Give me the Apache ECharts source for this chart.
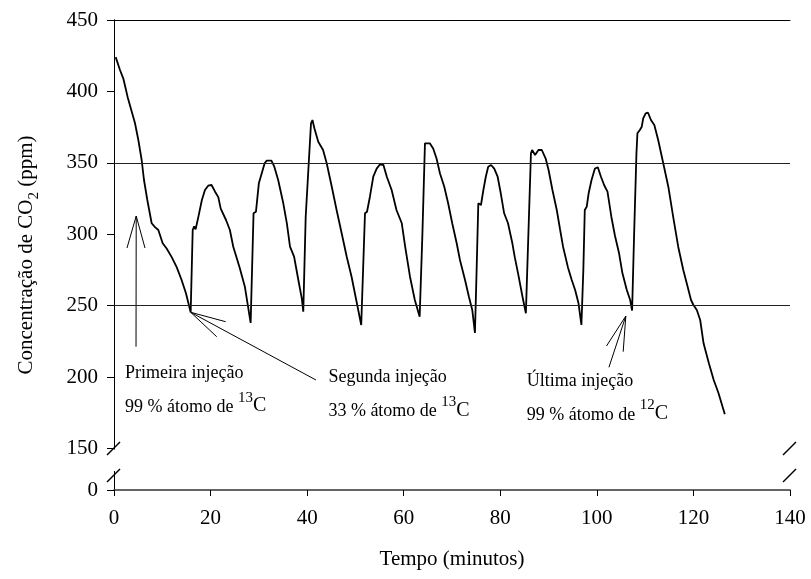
<!DOCTYPE html>
<html><head><meta charset="utf-8">
<script src="https://cdn.jsdelivr.net/npm/echarts@6/dist/echarts.min.js"></script>
<style>html,body{margin:0;padding:0;background:#fff}#c{width:811px;height:579px}</style>
</head><body><div id="c"></div>
<script>
// ---- data ----
const times = [0.35,1.24,1.93,2.83,3.87,4.35,5.04,5.73,6.21,6.9,7.8,8.49,9.18,10.08,10.9,11.95,12.98,14.0,14.9,15.88,
16.3,16.6,16.9,17.46,18.2,18.84,19.5,20.2,20.9,21.6,22.1,23.2,24.0,24.7,26.0,27.1,28.3,
28.9,29.4,30.0,30.6,31.2,31.6,32.6,33.2,34.0,35.06,35.8,36.45,37.3,38.3,38.9,39.2,
39.7,40.1,40.8,41.1,41.5,42.3,43.3,44.05,45.1,46.1,47.15,48.2,49.2,50.3,51.2,
51.98,52.4,53.0,53.7,54.4,55.1,55.8,56.5,57.5,58.5,59.6,60.3,61.3,62.3,63.3,
63.85,64.4,64.75,65.4,66.1,66.8,67.5,68.4,69.2,70.05,70.97,71.65,72.7,73.5,74.2,74.75,
75.1,75.45,76.0,76.5,77.0,77.5,78.1,78.75,79.45,80.1,80.8,81.6,82.5,83.0,83.7,84.6,85.3,
85.8,86.35,86.6,87.2,87.9,88.6,89.4,90.0,90.8,91.7,92.4,93.0,94.0,94.8,95.5,96.2,96.8,
97.2,97.5,97.9,98.3,98.9,99.6,100.2,100.85,101.5,102.2,103.0,103.75,104.6,105.3,106.2,106.9,107.3,
107.7,108.2,108.4,108.9,109.3,109.6,110.1,110.6,111.2,111.9,112.7,113.75,114.8,115.8,116.85,117.9,118.8,119.5,120.0,120.7,121.4,122.1,123.2,124.2,125.2,126.5];
const co2 = [424,415,409,396,383.5,377.7,366,352,338,324,307.7,305,303,293.7,290,284,277,268,258.7,245.4,
303,305.5,303.5,312,324,331,334,334.5,330,326,318,310,303,291.3,277,263.3,238,
314.7,315.8,335.7,342.7,349.7,351.5,351.5,347.3,338,321.7,307.7,291.3,284.3,265.7,255,245.8,
312.3,313.5,377.7,380,374.2,364.8,359,349.7,333.3,317,300.7,284.3,270.3,251.7,236.5,
314.7,315.8,326.3,340.3,346,349,348.5,340.3,331,317,307.7,291.3,270.3,254,242.3,
298,363.7,364.8,363.7,360,353,342.7,333.3,321.7,307.7,293.7,282,268,256.3,247,231,
275,321.7,320.5,331,340.3,347.3,348.5,346,340.3,328.7,314.7,307.7,293.7,284,272.3,256.3,244.7,
298,356.7,359,355.5,359,359,353,345,331,317,303,291.3,277,268,261,251.7,236.5,
275,317,319.3,328.7,338,346,346.9,340.3,334.5,329.8,312.3,299,286.7,272.7,261,254,246.6,
298,356.7,370.7,373,375.3,381.2,384.7,385.1,380,376.5,366,349.7,333.3,312.3,291.3,275,263.3,254,250.5,247,240,223.7,209.7,198,188.7,174];
const xTickValues = [0,20,40,60,80,100,120,140];
const yTickValues = [150,200,250,300,350,400,450];
const yBreakFloor = 121;          // bottom of the broken axis, labelled "0"
const refLines = [250,350];
// annotations (data coordinates)
const arrowTips  = [[4.6,312.8],[15.88,245.4],[106.0,242.8]];
const arrowTails = [[4.56,221.3],[41.83,198],[102.5,206.9]];
const arrowLegA  = [[2.69,290.4],[23.13,238.8],[102.0,221.8]];
const arrowLegB  = [[6.42,290.4],[21.27,228.3],[105.45,217.8]];
const noteTitles = ['Primeira injeção','Segunda injeção','Última injeção'];
const notePct    = ['99 % átomo de ','33 % átomo de ','99 % átomo de '];
const noteMass   = ['13','13','12'];
const noteAnchor = [[2.28,202.8],[44.4,199.6],[85.5,197.4]];

const FONT = '"Liberation Serif","Times New Roman",serif';
const chart = echarts.init(document.getElementById('c'));

const arrowSeries = [];
for (let i = 0; i < arrowTips.length; i++) {
  arrowSeries.push({type:'line', symbol:'none', silent:true, data:[arrowLegA[i], arrowTips[i], arrowLegB[i]],
    lineStyle:{color:'#000', width:1}, z:4});
  arrowSeries.push({type:'line', symbol:'none', silent:true, data:[arrowTips[i], arrowTails[i]],
    lineStyle:{color:'#000', width:1}, z:4});
}

chart.setOption({
  animation:false,
  backgroundColor:'#fff',
  grid:{left:114, right:21, top:20, bottom:89},
  xAxis:[{
    type:'value', min:0, max:140, interval:20,
    name:'Tempo (minutos)', nameLocation:'middle', nameGap:59,
    nameTextStyle:{fontFamily:FONT, fontSize:21, color:'#000'},
    axisLine:{show:true, lineStyle:{color:'#333', width:1.5}},
    axisTick:{show:true, inside:false, length:6, lineStyle:{color:'#000'}},
    axisLabel:{fontFamily:FONT, fontSize:21, color:'#000', margin:18},
    splitLine:{show:false}
  },{
    type:'value', min:0, max:140, position:'top',
    axisLine:{show:true, lineStyle:{color:'#000', width:1}},
    axisTick:{show:false}, axisLabel:{show:false}, splitLine:{show:false}
  }],
  yAxis:[{
    type:'value', min:yBreakFloor, max:450,
    name:'{n|Concentração de CO}{s|2}{n| (ppm)}', nameLocation:'middle', nameGap:72,
    nameTextStyle:{color:'#000', rich:{
      n:{fontFamily:FONT, fontSize:21, color:'#000', verticalAlign:'top', lineHeight:26},
      s:{fontFamily:FONT, fontSize:15, color:'#000', verticalAlign:'bottom', lineHeight:15}
    }},
    axisLine:{show:true, lineStyle:{color:'#000', width:1}},
    axisTick:{show:true, length:7, customValues:[yBreakFloor].concat(yTickValues), lineStyle:{color:'#000'}},
    axisLabel:{fontFamily:FONT, fontSize:21, color:'#000', margin:16,
      customValues:[yBreakFloor].concat(yTickValues),
      formatter:v => (v === yBreakFloor ? '0' : String(v))},
    splitLine:{show:false}
  },{
    type:'value', min:yBreakFloor, max:450, position:'right',
    axisLine:{show:true, lineStyle:{color:'#000', width:1}},
    axisTick:{show:false}, axisLabel:{show:false}, splitLine:{show:false}
  }],
  series:[{
    type:'line', symbol:'none', silent:true, z:3,
    data: times.map((t,i)=>[t, co2[i]]),
    lineStyle:{color:'#000', width:1.8},
    markLine:{symbol:'none', silent:true, label:{show:false},
      lineStyle:{color:'#222', width:1, type:'solid'},
      data: refLines.map(v=>({yAxis:v}))}
  }].concat(arrowSeries)
});

// decorations: axis-break marks and annotation text
const px = (x,y) => chart.convertToPixel({xAxisIndex:0, yAxisIndex:0}, [x,y]);
const p150 = px(0,150), pBottom = px(0,yBreakFloor), pRight = px(140,150);
const graphics = [];
[p150[0], pRight[0]].forEach(ax => {
  const yc = p150[1];
  graphics.push({type:'rect', z:100, shape:{x:ax-2, y:yc+1, width:4, height:(pBottom[1]-yc)-20}, style:{fill:'#fff'}});
  graphics.push({type:'line', z:101, shape:{x1:ax-7, y1:yc+6.5, x2:ax+6, y2:yc-6.5}, style:{stroke:'#000', lineWidth:1.5}});
  graphics.push({type:'line', z:101, shape:{x1:ax-7, y1:yc+33.5, x2:ax+6, y2:yc+20.5}, style:{stroke:'#000', lineWidth:1.5}});
});
for (let i = 0; i < noteTitles.length; i++) {
  const p = px(noteAnchor[i][0], noteAnchor[i][1]);
  graphics.push({type:'text', z:100, x:p[0], y:p[1], style:{text:noteTitles[i], fontFamily:FONT, fontSize:18, fill:'#000', align:'left', verticalAlign:'middle'}});
  graphics.push({type:'text', z:100, x:p[0], y:p[1]+30, style:{
    text:'{n|' + notePct[i] + '}{s|' + noteMass[i] + '}{c|C}', align:'left', verticalAlign:'middle',
    rich:{
      n:{fontFamily:FONT, fontSize:18, fill:'#000', verticalAlign:'bottom', lineHeight:26},
      s:{fontFamily:FONT, fontSize:15, fill:'#000', verticalAlign:'top', lineHeight:15},
      c:{fontFamily:FONT, fontSize:20, fill:'#000', verticalAlign:'bottom', lineHeight:26}
    }}});
}
chart.setOption({graphic:graphics});
</script>
</body></html>
